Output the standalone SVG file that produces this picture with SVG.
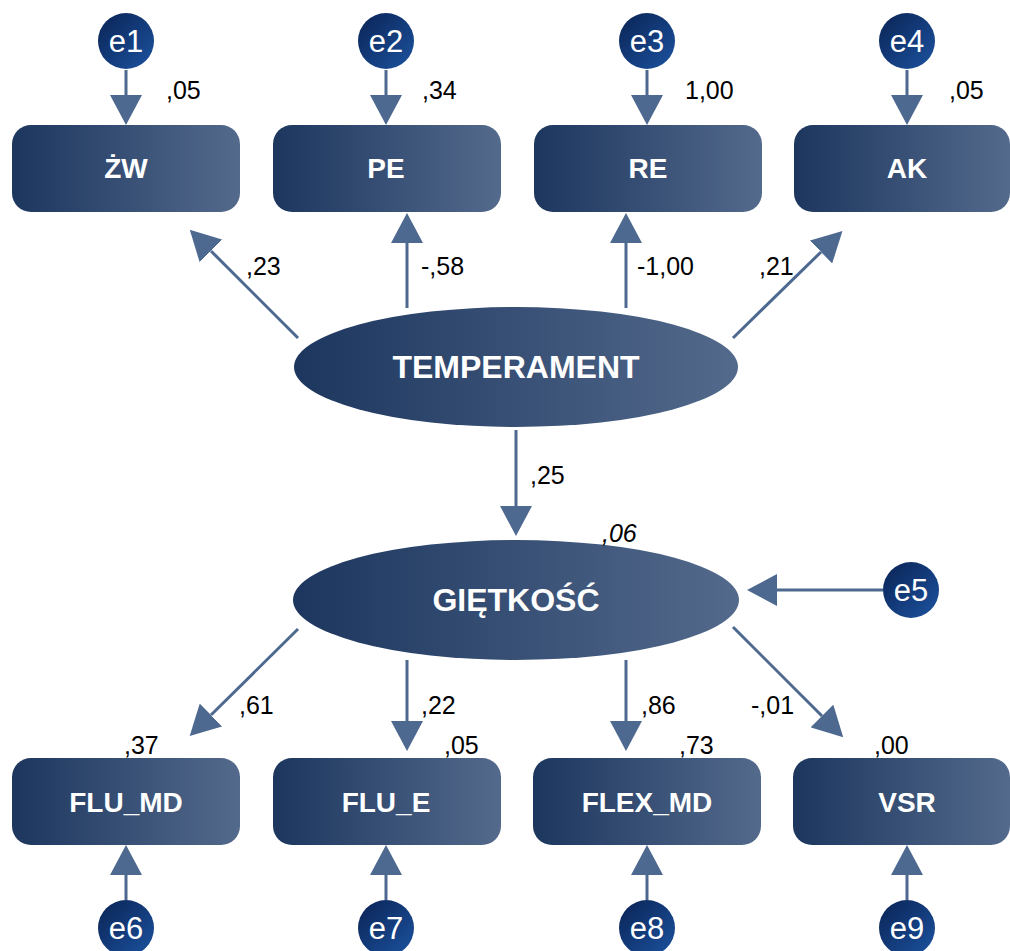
<svg xmlns="http://www.w3.org/2000/svg" width="1010" height="951" viewBox="0 0 1010 951">
<defs>
<linearGradient id="gb" x1="0" y1="0" x2="1" y2="0">
<stop offset="0" stop-color="#1d365e"/>
<stop offset="1" stop-color="#536a8c"/>
</linearGradient>
<linearGradient id="gc" x1="0" y1="0" x2="1" y2="1">
<stop offset="0" stop-color="#0a2354"/>
<stop offset="1" stop-color="#1c53a0"/>
</linearGradient>
<marker id="ah" viewBox="0 0 30 32" refX="0" refY="16" markerWidth="30" markerHeight="32" markerUnits="userSpaceOnUse" orient="auto">
<path d="M0,0 L30,16 L0,32 z" fill="#4e6990"/>
</marker>
<style>
.box{fill:url(#gb);}
.ell{fill:url(#gb);}
.err{fill:url(#gc);}
.bt{font-family:"Liberation Sans",Arial,sans-serif;font-weight:bold;font-size:28px;fill:#ffffff;text-anchor:middle;}
.lt{font-family:"Liberation Sans",Arial,sans-serif;font-weight:bold;font-size:32px;fill:#ffffff;text-anchor:middle;}
.et{font-family:"Liberation Sans",Arial,sans-serif;font-size:31px;fill:#ffffff;text-anchor:middle;}
.nt{font-family:"Liberation Sans",Arial,sans-serif;font-size:25px;fill:#000000;}
.c line{stroke:#4e6990;stroke-width:3;marker-end:url(#ah);}
</style>
</defs>
<rect width="1010" height="951" fill="#ffffff"/>

<g class="c" id="connectors">
<line x1="126" y1="70" x2="126" y2="95"/>
<line x1="386" y1="70" x2="386" y2="95"/>
<line x1="647" y1="70" x2="647" y2="95"/>
<line x1="907" y1="70" x2="907" y2="95"/>
<line x1="298" y1="338" x2="211" y2="251"/>
<line x1="407" y1="308" x2="407" y2="243"/>
<line x1="626" y1="308" x2="626" y2="243"/>
<line x1="733" y1="338" x2="821" y2="252"/>
<line x1="516" y1="430" x2="516" y2="506"/>
<line x1="883" y1="590" x2="777" y2="590"/>
<line x1="298" y1="629" x2="211" y2="715"/>
<line x1="407" y1="660" x2="407" y2="721"/>
<line x1="626" y1="660" x2="626" y2="721"/>
<line x1="733" y1="627" x2="822" y2="716"/>
<line x1="126" y1="900" x2="126" y2="875"/>
<line x1="386" y1="900" x2="386" y2="875"/>
<line x1="647" y1="900" x2="647" y2="875"/>
<line x1="907" y1="900" x2="907" y2="875"/>
</g>

<g id="e1"><circle class="err" cx="126" cy="41" r="28"/><text class="et" x="126" y="52">e1</text></g>
<g id="e2"><circle class="err" cx="386" cy="41" r="28"/><text class="et" x="386" y="52">e2</text></g>
<g id="e3"><circle class="err" cx="647" cy="41" r="28"/><text class="et" x="647" y="52">e3</text></g>
<g id="e4"><circle class="err" cx="907" cy="41" r="28"/><text class="et" x="907" y="52">e4</text></g>

<g id="ZW"><rect class="box" x="12" y="125" width="228" height="87" rx="19"/><text class="bt" x="126" y="178">ŻW</text></g>
<g id="PE"><rect class="box" x="273" y="125" width="228" height="87" rx="19"/><text class="bt" x="386" y="178">PE</text></g>
<g id="RE"><rect class="box" x="534" y="125" width="228" height="87" rx="19"/><text class="bt" x="648" y="178">RE</text></g>
<g id="AK"><rect class="box" x="794" y="125" width="216" height="87" rx="19"/><text class="bt" x="907" y="178">AK</text></g>

<g id="TEMPERAMENT"><ellipse class="ell" cx="516" cy="367" rx="222" ry="60"/><text class="lt" x="516" y="378">TEMPERAMENT</text></g>
<g id="GIETKOSC"><ellipse class="ell" cx="516" cy="600" rx="223" ry="60"/><text class="lt" x="516" y="611">GIĘTKOŚĆ</text></g>
<g id="e5"><circle class="err" cx="911" cy="590" r="28"/><text class="et" x="911" y="601">e5</text></g>

<g id="FLU_MD"><rect class="box" x="12" y="758" width="228" height="87" rx="19"/><text class="bt" x="126" y="812">FLU_MD</text></g>
<g id="FLU_E"><rect class="box" x="273" y="758" width="228" height="87" rx="19"/><text class="bt" x="386" y="812">FLU_E</text></g>
<g id="FLEX_MD"><rect class="box" x="533" y="758" width="228" height="87" rx="19"/><text class="bt" x="647" y="812">FLEX_MD</text></g>
<g id="VSR"><rect class="box" x="793" y="758" width="217" height="87" rx="19"/><text class="bt" x="907" y="812">VSR</text></g>

<g id="e6"><circle class="err" cx="126" cy="928" r="28"/><text class="et" x="126" y="939">e6</text></g>
<g id="e7"><circle class="err" cx="386" cy="928" r="28"/><text class="et" x="386" y="939">e7</text></g>
<g id="e8"><circle class="err" cx="647" cy="928" r="28"/><text class="et" x="647" y="939">e8</text></g>
<g id="e9"><circle class="err" cx="907" cy="928" r="28"/><text class="et" x="907" y="939">e9</text></g>

<g id="labels">
<text class="nt" x="166" y="99">,05</text>
<text class="nt" x="422" y="99">,34</text>
<text class="nt" x="685" y="99">1,00</text>
<text class="nt" x="949" y="99">,05</text>
<text class="nt" x="246" y="275">,23</text>
<text class="nt" x="421" y="275">-,58</text>
<text class="nt" x="637" y="275">-1,00</text>
<text class="nt" x="759" y="275">,21</text>
<text class="nt" x="530" y="484">,25</text>
<text class="nt" x="602" y="542" font-style="italic">,06</text>
<text class="nt" x="239" y="714">,61</text>
<text class="nt" x="421" y="714">,22</text>
<text class="nt" x="641" y="714">,86</text>
<text class="nt" x="751" y="714">-,01</text>
<text class="nt" x="124" y="754">,37</text>
<text class="nt" x="444" y="754">,05</text>
<text class="nt" x="679" y="754">,73</text>
<text class="nt" x="874" y="754">,00</text>
</g>
</svg>
